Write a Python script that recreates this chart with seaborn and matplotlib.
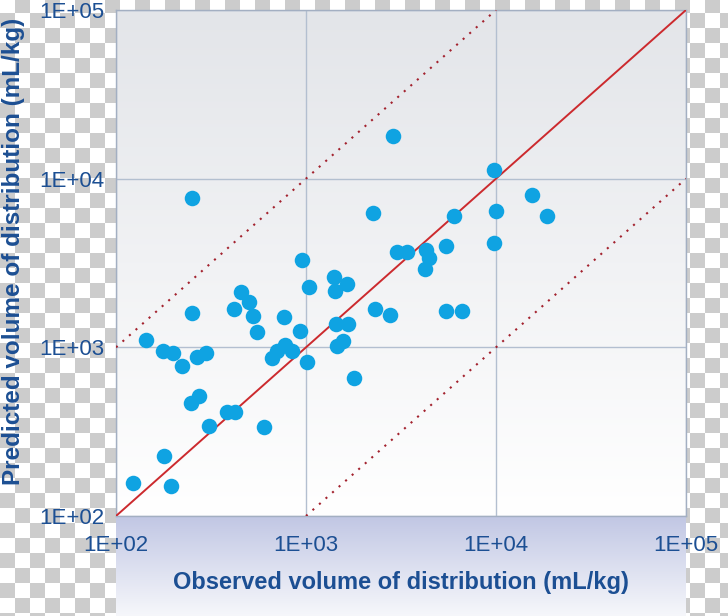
import numpy as np
import pandas as pd
import seaborn as sns
from matplotlib import pyplot as plt

# observed vs predicted volume of distribution (mL/kg)
observed = [123, 179, 195, 144, 177, 200, 222, 267, 298, 248, 273, 309, 384, 423,
            601, 552, 526, 501, 455, 418, 251, 251, 662, 703, 775, 844, 930, 766,
            953, 1037, 1012, 1403, 1421, 1644, 1438, 1663, 1456, 1566, 1789, 2252,
            2307, 2768, 2869, 3013, 3401, 4280, 4439, 4230, 5454, 5454, 6624, 6010,
            9761, 10000, 9761, 15470, 18550]
predicted = [157, 227, 151, 1105, 951, 925, 775, 876, 925, 467, 515, 342, 414, 414,
             337, 1232, 1532, 1856, 2128, 1687, 1597, 7674, 864, 951, 1032, 951, 1250, 1512,
             3292, 2277, 818, 2611, 2157, 2372, 1374, 1374, 1018, 1090, 658, 6252,
             1687, 1555, 17885, 3672, 3672, 3775, 3383, 2912, 3986, 1641, 1641, 6000,
             11246, 6428, 4152, 7994, 6000]

# identity line and the 10-fold limits
unity_x = [1e2, 1e5]
unity_y = [1e2, 1e5]
upper_x = [1e2, 1e4]
upper_y = [1e3, 1e5]
lower_x = [1e3, 1e5]
lower_y = [1e2, 1e4]

ticks = [1e2, 1e3, 1e4, 1e5]
tick_labels = ["1E+02", "1E+03", "1E+04", "1E+05"]

df = pd.DataFrame({"observed": observed, "predicted": predicted})

sns.set_style("white")
plt.rcParams["font.family"] = ["Liberation Sans", "DejaVu Sans"]

W, H = 728, 616
fig = plt.figure(figsize=(W / 100, H / 100), dpi=100)

# background layer in pixel coordinates: transparency checkerboard + gradients
bg = fig.add_axes([0, 0, 1, 1], zorder=-10)
bg.set_xlim(0, W)
bg.set_ylim(H, 0)
bg.axis("off")
yy, xx = np.mgrid[0:H, 0:W]
gray = ((xx // 15) + ((yy - 13) // 15)) % 2 == 0
checker = np.where(gray, 0.80, 1.0)
bg.imshow(checker, cmap="gray", vmin=0, vmax=1, extent=(0, W, H, 0),
          interpolation="nearest", aspect="auto")

t = np.linspace(0, 1, 256)[:, None, None]
top = np.array([0.890, 0.898, 0.914])
bot = np.array([1.0, 1.0, 1.0])
bg.imshow(top * (1 - t) + bot * t, extent=(116, 686, 516, 10), aspect="auto")
top2 = np.array([0.757, 0.780, 0.894])
bot2 = np.array([0.965, 0.969, 0.984])
bg.imshow(top2 * (1 - t) + bot2 * t, extent=(116, 686, 616, 516), aspect="auto")

ax = fig.add_axes([116 / W, 100 / H, 570 / W, 506 / H])
ax.patch.set_visible(False)

sns.scatterplot(data=df, x="observed", y="predicted", ax=ax, s=125,
                color="#0fa3e2", linewidth=0, zorder=4)
ax.plot(unity_x, unity_y, color="#cc2a2e", lw=1.4, zorder=3)
ax.plot(upper_x, upper_y, color="#a3222e", lw=1.5, ls=(0, (1, 3.2)), zorder=3)
ax.plot(lower_x, lower_y, color="#a3222e", lw=1.5, ls=(0, (1, 3.2)), zorder=3)

ax.set_xscale("log")
ax.set_yscale("log")
ax.set_xlim(1e2, 1e5)
ax.set_ylim(1e2, 1e5)
ax.set_xticks(ticks)
ax.set_xticklabels(tick_labels)
ax.set_yticks(ticks)
ax.set_yticklabels(tick_labels)
ax.minorticks_off()

ax.grid(True, color="#b3bfd0", lw=1)
ax.set_axisbelow(True)
for sp in ax.spines.values():
    sp.set_color("#a3afc2")
    sp.set_linewidth(1)

label_color = "#1c4f93"
ax.tick_params(axis="y", length=4.5, width=1, color="#9aa6b8", pad=4,
               labelsize=16, labelcolor=label_color)
ax.tick_params(axis="x", length=2.5, width=1, color="#9aa6b8", pad=11,
               labelsize=16, labelcolor=label_color)

ax.set_xlabel("Observed volume of distribution (mL/kg)", fontsize=17,
              fontweight="bold", color=label_color)
ax.set_ylabel("Predicted volume of distribution (mL/kg)", fontsize=17.5,
              fontweight="bold", color=label_color)
ax.xaxis.set_label_coords(0.5, -0.109)
ax.yaxis.set_label_coords(-0.16, 0.522)

fig.savefig("out.png", dpi=100)
